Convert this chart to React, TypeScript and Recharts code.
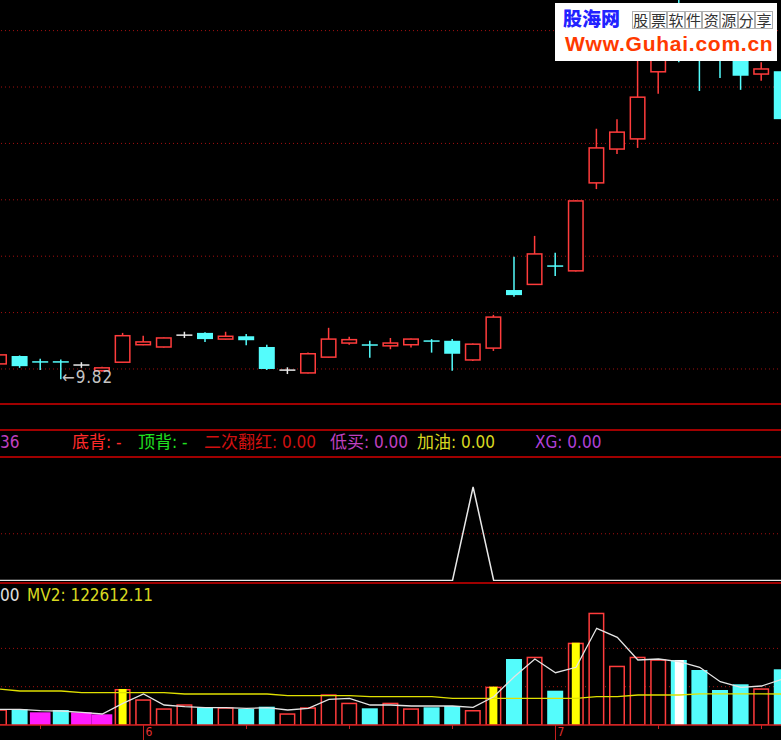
import React from "react";
import { ComposedChart, Bar, Line, XAxis, YAxis, CartesianGrid, ReferenceDot } from "recharts";

// daily K-line (price, yuan)
const opens = [10.09, 10.23, 10.13, 10.13, 10.07, 9.97, 10.12, 10.43, 10.39, 10.6, 10.64, 10.53, 10.58, 10.39, 9.98, 9.93, 10.21, 10.46, 10.43, 10.41, 10.43, 10.5, 10.5, 10.16, 10.37, 11.4, 11.5, 11.83, 11.74, 13.3, 13.9, 14.08, 15.27, 16.05, 16.1, 15.95, 15.56, 15.23, 15.28];
const highs = [10.26, 10.24, 10.18, 10.17, 10.12, 10.04, 10.64, 10.59, 10.56, 10.66, 10.65, 10.66, 10.62, 10.43, 10.03, 10.29, 10.73, 10.57, 10.5, 10.55, 10.54, 10.53, 10.53, 10.45, 10.96, 11.99, 12.36, 12.06, 12.99, 14.26, 14.43, 15.7, 15.95, 16.6, 16.3, 16.15, 15.68, 15.44, 15.32];
const lows = [10.08, 10.02, 9.98, 9.82, 10.02, 9.95, 10.11, 10.42, 10.38, 10.55, 10.48, 10.52, 10.42, 9.98, 9.91, 9.92, 10.2, 10.43, 10.2, 10.35, 10.38, 10.29, 9.97, 10.14, 10.32, 11.28, 11.49, 11.65, 11.73, 13.19, 13.81, 13.92, 14.88, 15.44, 14.93, 15.16, 14.95, 15.11, 14.4];
const closes = [10.25, 10.05, 10.12, 10.12, 10.07, 10.02, 10.59, 10.48, 10.55, 10.6, 10.53, 10.58, 10.51, 10.0, 9.98, 10.27, 10.53, 10.52, 10.42, 10.46, 10.53, 10.49, 10.27, 10.44, 10.92, 11.31, 12.04, 11.82, 12.98, 13.92, 14.2, 14.82, 15.83, 15.7, 15.6, 15.55, 15.2, 15.32, 14.43];

// volume and its two averages
const volumes = [62100, 62100, 50200, 59300, 50200, 42300, 142400, 101600, 66000, 81900, 70000, 70000, 63300, 72400, 46300, 70000, 121400, 88200, 66000, 88200, 66000, 70000, 75100, 59300, 151500, 261000, 270100, 135700, 325500, 444100, 234500, 270100, 259800, 257100, 217500, 138400, 161000, 145100, 220300];
const volMa1 = [62100, 62100, 56600, 55400, 50200, 43500, 85800, 122600, 79100, 72400, 68400, 68400, 66000, 68400, 59300, 66000, 101600, 105600, 79100, 79100, 75100, 75100, 75100, 70000, 111900, 191000, 261000, 206800, 228200, 382400, 346900, 257100, 261000, 250300, 228200, 171300, 149100, 154200, 180700];
const volMa2 = [142400, 134500, 134500, 134500, 127700, 127700, 127700, 127700, 127700, 122600, 122600, 122600, 122600, 122600, 115900, 115900, 115900, 115900, 111900, 111900, 111900, 111900, 105600, 105600, 105600, 105600, 105600, 105600, 105600, 111900, 111900, 118700, 118700, 118700, 123400, 123400, 123400, 123000, 122612.11];

// XG signal line
const xgSignal = [0, 0, 0, 0, 0, 0, 0, 0, 0, 0, 0, 0, 0, 0, 0, 0, 0, 0, 0, 0, 0, 0, 0, 1, 0, 0, 0, 0, 0, 0, 0, 0, 0, 0, 0, 0, 0, 0, 0];

const bigUpDays = [6, 24, 28];
const lowVolDays = [2, 4, 5];
const flatVolDays = [33];

const priceGrid = [10, 11, 12, 13, 14, 15, 16];
const volGrid = [151500, 303000];
const xgGrid = [0.5];
const weekTicks = [2, 7, 12, 17, 22, 27, 32, 37];
const monthTicks = [7, 27];
const monthLabels = ["6", "7"];
const lowMarkDay = 3;
const lowMarkPrice = 9.82;

const rows = opens.map((open, i) => ({
  i,
  open,
  high: highs[i],
  low: lows[i],
  close: closes[i],
  range: [lows[i], highs[i]],
  vol: volumes[i],
  ma1: volMa1[i],
  ma2: volMa2[i],
  xg: xgSignal[i],
}));

const PITCH = 20.6;
const PLOT_W = rows.length * PITCH;
const LEFT = -0.6 - PITCH / 2;
const UP = "#ff3c3c";
const DOWN = "#54fcfc";
const FLAT = "#e8e8e8";
const GRID = "#a81010";
const BORDER = "#a00000";
const FONT = "'DejaVu Sans Condensed', 'DejaVu Sans', 'Noto Sans CJK SC', sans-serif";
const xDomain = [-0.5, rows.length - 0.5];

function Candle(props: any) {
  const { x, y, width, height, payload } = props;
  if (x == null || !payload) return null;
  const { open, close, high, low } = payload;
  const top = Math.min(y, y + height);
  const h = Math.abs(height);
  const yOf = (v: number) => top + ((high - v) / (high - low)) * h;
  const cx = x + width / 2;
  const yo = yOf(open);
  const yc = yOf(close);
  const bTop = Math.min(yo, yc);
  const bBot = Math.max(yo, yc);
  const color = close > open ? UP : close < open ? DOWN : FLAT;
  if (bBot - bTop < 1.5) {
    const ym = (bTop + bBot) / 2;
    return (
      <g>
        <line x1={cx} x2={cx} y1={top} y2={top + h} stroke={color} strokeWidth={1.5} />
        <line x1={x} x2={x + width} y1={ym} y2={ym} stroke={color} strokeWidth={1.5} />
      </g>
    );
  }
  if (close > open) {
    return (
      <g>
        <line x1={cx} x2={cx} y1={top} y2={bTop} stroke={color} strokeWidth={1.5} />
        <line x1={cx} x2={cx} y1={bBot} y2={top + h} stroke={color} strokeWidth={1.5} />
        <rect x={x + 0.75} y={bTop} width={width - 1.5} height={bBot - bTop} fill="#000" stroke={color} strokeWidth={1.5} />
      </g>
    );
  }
  return (
    <g>
      <line x1={cx} x2={cx} y1={top} y2={top + h} stroke={color} strokeWidth={1.5} />
      <rect x={x} y={bTop} width={width} height={bBot - bTop} fill={color} />
    </g>
  );
}

function VolBar(props: any) {
  const { x, y, width, height, payload } = props;
  if (x == null || !payload) return null;
  const i = payload.i;
  const cx = x + width / 2;
  if (lowVolDays.includes(i)) {
    return <rect x={x - 2.3} y={y} width={width + 4.6} height={height} fill="#ff1cff" />;
  }
  if (flatVolDays.includes(i)) {
    return (
      <g>
        <rect x={x} y={y} width={width} height={height} fill={DOWN} />
        <rect x={x + 4} y={y} width={width - 7} height={height} fill="#ffffff" />
      </g>
    );
  }
  if (payload.close >= payload.open) {
    return (
      <g>
        <rect x={x + 0.75} y={y + 0.75} width={width - 1.5} height={height - 0.75} fill="#000" stroke={UP} strokeWidth={1.5} />
        {bigUpDays.includes(i) && <rect x={cx - 4} y={y} width={8} height={height} fill="#ffff00" />}
      </g>
    );
  }
  return <rect x={x} y={y} width={width} height={height} fill={DOWN} />;
}

function MonthTick(props: any) {
  const { x, y, payload } = props;
  const m = monthTicks.indexOf(payload.value);
  return (
    <g>
      <line x1={x} x2={x} y1={y} y2={y + (m >= 0 ? 15 : 4)} stroke="#c82020" strokeWidth={1} />
      {m >= 0 && (
        <text x={x + 2} y={y + 11.5} fill="#e03030" fontSize={12} fontFamily={FONT}>
          {monthLabels[m]}
        </text>
      )}
    </g>
  );
}

function LowLabel(props: any) {
  const { cx, cy } = props;
  if (cx == null) return null;
  return (
    <text x={cx + 1} y={cy + 4} fill="#c4c4c4" fontSize={17} letterSpacing={0.8} fontFamily={FONT}>
      {"\u2190" + lowMarkPrice.toFixed(2)}
    </text>
  );
}

const txt = (left: number, top: number, color: string, s: string) => (
  <div style={{ position: "absolute", left, top, color, fontSize: 17, lineHeight: "18px", fontFamily: FONT, whiteSpace: "nowrap" }}>{s}</div>
);

const hline = (top: number) => (
  <div style={{ position: "absolute", left: 0, top, width: 781, height: 2, background: BORDER }} />
);

const boxChars = ["股", "票", "软", "件", "资", "源", "分", "享"];

export default function App() {
  return (
    <div style={{ position: "absolute", left: 0, top: 0, width: 781, height: 740, background: "#000", overflow: "hidden" }}>
      {/* main K-line panel */}
      <div style={{ position: "absolute", left: LEFT, top: 0 }}>
        <ComposedChart width={PLOT_W} height={404} data={rows} margin={{ top: 0, right: 0, bottom: 0, left: 0 }}>
          <CartesianGrid vertical={false} horizontalValues={priceGrid} stroke={GRID} strokeDasharray="1 3" />
          <XAxis dataKey="i" type="number" domain={xDomain} hide />
          <YAxis type="number" domain={[9.379, 16.543]} ticks={priceGrid} allowDataOverflow hide />
          <Bar dataKey="range" barSize={16} shape={Candle} isAnimationActive={false} />
          <ReferenceDot x={lowMarkDay} y={lowMarkPrice} r={0} shape={LowLabel} />
        </ComposedChart>
      </div>
      {hline(403)}
      {hline(429)}
      {txt(0, 433, "#c040c0", "36")}
      {txt(72, 433, "#ff2a2a", "底背: -")}
      {txt(138, 433, "#20e020", "顶背: -")}
      {txt(204, 433, "#d01010", "二次翻红: 0.00")}
      {txt(330, 433, "#c040c0", "低买: 0.00")}
      {txt(417, 433, "#d8d820", "加油: 0.00")}
      {txt(535, 433, "#b040d8", "XG: 0.00")}
      {hline(456)}
      {/* XG panel */}
      <div style={{ position: "absolute", left: LEFT, top: 457 }}>
        <ComposedChart width={PLOT_W} height={124} data={rows} margin={{ top: 0, right: 0, bottom: 0, left: 0 }}>
          <CartesianGrid vertical={false} horizontalValues={xgGrid} stroke={GRID} strokeDasharray="1 3" />
          <XAxis dataKey="i" type="number" domain={xDomain} hide />
          <YAxis type="number" domain={[-0.0053, 1.3209]} ticks={xgGrid} allowDataOverflow hide />
          <Line dataKey="xg" type="linear" stroke="#e8e8e8" strokeWidth={1.5} dot={false} isAnimationActive={false} />
        </ComposedChart>
      </div>
      {hline(581.5)}
      {/* volume panel */}
      <div style={{ position: "absolute", left: LEFT, top: 583 }}>
        <ComposedChart width={PLOT_W} height={157} data={rows} margin={{ top: 0, right: 0, bottom: 0, left: 0 }}>
          <CartesianGrid vertical={false} horizontalValues={volGrid} stroke={GRID} strokeDasharray="1 3" />
          <XAxis
            dataKey="i"
            type="number"
            domain={xDomain}
            ticks={weekTicks}
            interval={0}
            height={15}
            tickSize={0}
            tickMargin={0}
            tickLine={false}
            axisLine={{ stroke: "#d02020", strokeWidth: 1.5 }}
            tick={MonthTick}
          />
          <YAxis type="number" domain={[0, 561600]} ticks={volGrid} allowDataOverflow hide />
          <Bar dataKey="vol" barSize={16} shape={VolBar} isAnimationActive={false} />
          <Line dataKey="ma2" type="linear" stroke="#e0e000" strokeWidth={1.3} dot={false} isAnimationActive={false} />
          <Line dataKey="ma1" type="linear" stroke="#e4e4e4" strokeWidth={1.3} dot={false} isAnimationActive={false} />
        </ComposedChart>
      </div>
      {txt(0, 586, "#e0e0e0", "00")}
      {txt(27, 586, "#d8d820", "MV2: " + volMa2[volMa2.length - 1].toFixed(2))}
      {/* watermark */}
      <div style={{ position: "absolute", left: 555, top: 3, width: 222, height: 58, background: "#fff" }}>
        <div style={{ position: "absolute", left: 8, top: 5, fontSize: 19, lineHeight: "20px", fontWeight: 900, color: "#2222ff", fontFamily: "'Noto Sans CJK SC', sans-serif", whiteSpace: "nowrap" }}>
          股海网
        </div>
        <div style={{ position: "absolute", left: 77, top: 8, display: "flex" }}>
          {boxChars.map((c, k) => (
            <div key={k} style={{ width: 17.6, height: 18, boxSizing: "border-box", border: "1px solid #b0b0b0", fontSize: 15, lineHeight: "16px", textAlign: "center", color: "#333", fontFamily: "'Noto Sans CJK SC', sans-serif" }}>
              {c}
            </div>
          ))}
        </div>
        <div style={{ position: "absolute", left: 10, top: 28.75, fontSize: 21, lineHeight: "24px", letterSpacing: 0.75, fontWeight: 700, color: "#ff3a00", fontFamily: "'Liberation Sans', Arial, sans-serif", whiteSpace: "nowrap" }}>
          Www.Guhai.com.cn
        </div>
      </div>
    </div>
  );
}
